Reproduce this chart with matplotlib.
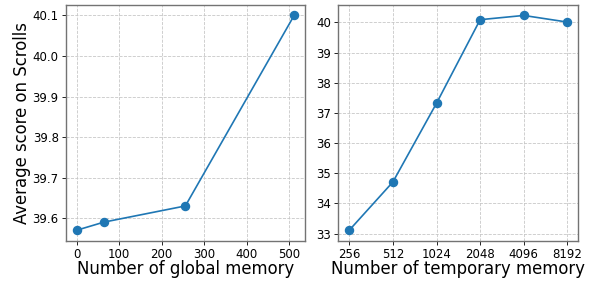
import matplotlib
matplotlib.use("Agg")
import matplotlib.pyplot as plt

global_mem = [0, 64, 256, 512]
global_scores = [39.57, 39.59, 39.63, 40.10]

temp_mem = [256, 512, 1024, 2048, 4096, 8192]
temp_scores = [33.11, 34.71, 37.32, 40.09, 40.23, 40.01]

fig = plt.figure(figsize=(5.92, 2.84), dpi=100)
ax1 = fig.add_axes([0.111, 0.1514, 0.4042, 0.832])
ax2 = fig.add_axes([0.5715, 0.1514, 0.4054, 0.832])

color = "#1f77b4"
tick_fs = 8.5
label_fs = 11.9

ax1.plot(global_mem, global_scores, marker="o", color=color, markersize=5.8, linewidth=1.2)
ax1.set_xlabel("Number of global memory", fontsize=label_fs, labelpad=-0.5)
ax1.set_ylabel("Average score on Scrolls", fontsize=label_fs, labelpad=1.5)
ax1.set_yticks([39.6, 39.7, 39.8, 39.9, 40.0, 40.1])
ax1.set_yticklabels(["39.6", "39.7", "39.8", "39.9", "40.0", "40.1"])

ax2.plot(temp_mem, temp_scores, marker="o", color=color, markersize=5.8, linewidth=1.2)
ax2.set_xscale("log", base=2)
ax2.minorticks_off()
ax2.set_xticks(temp_mem)
ax2.set_xticklabels([str(v) for v in temp_mem])
ax2.set_xlabel("Number of temporary memory", fontsize=label_fs, labelpad=-0.5)

for ax in (ax1, ax2):
    ax.grid(True, linestyle="--", color="0.78", linewidth=0.6)
    ax.set_axisbelow(True)
    ax.tick_params(labelsize=tick_fs, length=3, width=0.6, pad=2)
    for s in ax.spines.values():
        s.set_color("0.45")
        s.set_linewidth(1.0)

fig.savefig("out.png", dpi=100)
